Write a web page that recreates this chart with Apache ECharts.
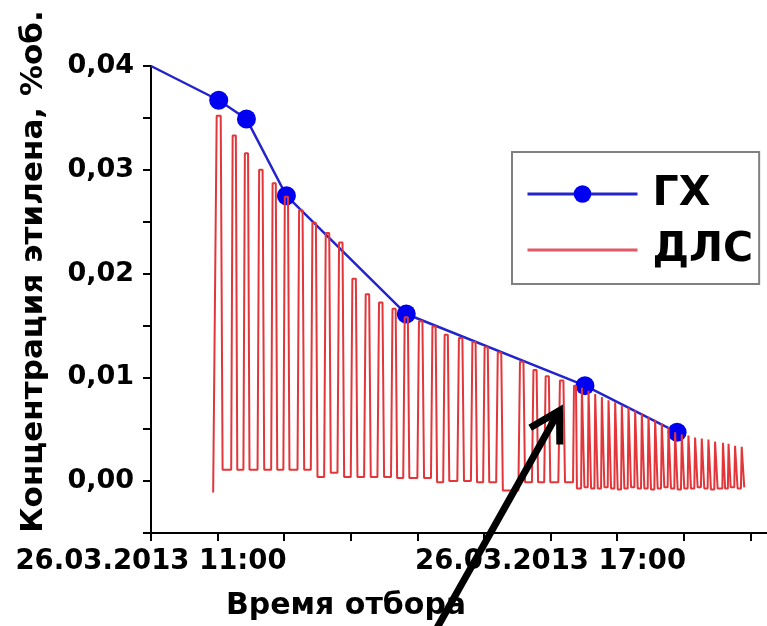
<!DOCTYPE html>
<html>
<head>
<meta charset="utf-8">
<script src="https://cdn.jsdelivr.net/npm/echarts@6/dist/echarts.min.js"></script>
<style>
  html, body { margin: 0; padding: 0; background: #fff; }
  #chart { width: 767px; height: 626px; }
</style>
</head>
<body>
<div id="chart"></div>
<script>
// ГХ — chromatograph samples: time of sampling and ethylene concentration, %vol
const gcTimes  = ['11:00', '12:01', '12:26', '13:02', '14:50', '17:31', '18:54'];
const gcValues = [0.0400, 0.0367, 0.0349, 0.0275, 0.0161, 0.0092, 0.0047];

// ДЛС — laser sensor record: starting level, then one pulse per measuring cycle
const dlsStartTime  = '11:56';
const dlsStartValue = -0.0011;
const dlsPeakTimes = [
  '12:01', '12:15', '12:26', '12:39', '12:51', '13:02', '13:15', '13:27', '13:39', '13:51',
  '14:03', '14:15', '14:27', '14:39', '14:50', '15:03', '15:15', '15:26', '15:39', '15:51',
  '16:02', '16:14', '16:34', '16:46', '16:57', '17:10', '17:22',
  '17:29', '17:35', '17:41', '17:47', '17:53', '17:59', '18:05', '18:11', '18:17', '18:23',
  '18:29', '18:35', '18:41', '18:47', '18:53', '18:59', '19:05', '19:11', '19:17', '19:23',
  '19:29', '19:36', '19:41', '19:47', '19:53'
];
const dlsPeakValues = [
  0.0352, 0.0333, 0.0316, 0.0300, 0.0287, 0.0274, 0.0261, 0.0249, 0.0239, 0.0230,
  0.0195, 0.0180, 0.0172, 0.0166, 0.0158, 0.0154, 0.0149, 0.0141, 0.0138, 0.0134,
  0.0129, 0.0124, 0.0115, 0.0107, 0.0101, 0.0097, 0.0092,
  0.0090, 0.0087, 0.0084, 0.0081, 0.0078, 0.0076, 0.0073, 0.0071, 0.0068, 0.0065,
  0.0062, 0.0059, 0.0056, 0.0052, 0.0047, 0.0045, 0.0044, 0.0042, 0.0041, 0.0040,
  0.0038, 0.0037, 0.0036, 0.0034, 0.0033
];
// baseline level reached after each pulse
const dlsTroughValues = [
  0.0011, 0.0011, 0.0011, 0.0011, 0.0011, 0.0011, 0.0011, 0.0004, 0.0008, 0.0004,
  0.0004, 0.0004, 0.0004, 0.0003, 0.0003, 0.0003, -0.0001, 0.0000, 0.0000, -0.0001,
  -0.0001, -0.0009, -0.0001, -0.0001, -0.0001, -0.0001, -0.0007,
  -0.0006, -0.0007, -0.0007, -0.0006, -0.0007, -0.0008, -0.0007, -0.0006, -0.0007, -0.0007,
  -0.0008, -0.0007, -0.0006, -0.0007, -0.0008, -0.0007, -0.0007, -0.0006, -0.0007, -0.0008,
  -0.0007, -0.0007, -0.0006, -0.0007, -0.0006
];

// labelled ticks of the time axis
const xTickLabels = { 11: '26.03.2013 11:00', 17: '26.03.2013 17:00' };

function toHours(s) {
  const p = s.split(':').map(Number);
  return p[0] + p[1] / 60;
}

// GC points; the first sample has no marker
const gcData = gcTimes.map((t, i) => {
  const item = { value: [toHours(t), gcValues[i]] };
  if (i === 0) item.symbol = 'none';
  return item;
});

// sensor trace: each pulse rises from the previous baseline, holds, falls to its own baseline
const peakHours = dlsPeakTimes.map(toHours);
const dlsData = [[toHours(dlsStartTime), dlsStartValue]];
peakHours.forEach((c, i) => {
  const prev = i > 0 ? c - peakHours[i - 1] : Infinity;
  const next = i < peakHours.length - 1 ? peakHours[i + 1] - c : Infinity;
  const s = Math.min(prev, next);
  const hold = 0.13 * s, edge = 0.12 * s;
  const before = i > 0 ? dlsTroughValues[i - 1] : dlsStartValue;
  dlsData.push([c - hold - edge, before]);
  dlsData.push([c - hold, dlsPeakValues[i]]);
  dlsData.push([c + hold, dlsPeakValues[i]]);
  dlsData.push([c + hold + edge, dlsTroughValues[i]]);
});

const FONT = 'DejaVu Sans';
const chart = echarts.init(document.getElementById('chart'), null, { renderer: 'canvas' });

chart.setOption({
  animation: false,
  backgroundColor: '#fff',
  grid: { left: 151, right: 0, top: 66, bottom: 93 },
  legend: {
    left: 512, top: 152, orient: 'vertical',
    itemWidth: 110, itemHeight: 22, itemGap: 12,
    padding: [20, 6, 12, 14],
    borderColor: '#808080', borderWidth: 2,
    lineStyle: { width: 3 },
    textStyle: { fontFamily: FONT, fontWeight: 'bold', fontSize: 41, color: '#000', lineHeight: 44, padding: [0, 0, 0, 10] },
    data: [
      { name: 'ГХ' },
      { name: 'ДЛС', itemStyle: { opacity: 0 }, lineStyle: { color: '#e05a66', width: 3 } }
    ]
  },
  xAxis: {
    type: 'value', min: 11, max: 20.25, interval: 1,
    axisLine: { onZero: false, lineStyle: { color: '#000', width: 2 } },
    axisTick: { length: 8, lineStyle: { color: '#000', width: 2 } },
    splitLine: { show: false },
    axisLabel: {
      showMinLabel: true, showMaxLabel: false, margin: 15,
      fontFamily: FONT, fontWeight: 'bold', fontSize: 27.5, color: '#000',
      formatter: v => xTickLabels[Math.round(v)] && Math.abs(v - Math.round(v)) < 1e-6 ? xTickLabels[Math.round(v)] : ''
    },
    name: 'Время отбора', nameLocation: 'middle', nameGap: 58,
    nameTextStyle: { fontFamily: FONT, fontWeight: 'bold', fontSize: 30, color: '#000', padding: [0, 226, 0, 0] }
  },
  yAxis: {
    type: 'value', min: -0.005, max: 0.04, interval: 0.005,
    axisLine: { show: true, lineStyle: { color: '#000', width: 2 } },
    axisTick: { show: true, length: 8, lineStyle: { color: '#000', width: 2 } },
    splitLine: { show: false },
    axisLabel: {
      showMinLabel: true, showMaxLabel: true, margin: 17,
      fontFamily: FONT, fontWeight: 'bold', fontSize: 27, color: '#000',
      formatter: v => {
        const k = Math.round(v * 1000);
        return k % 10 === 0 ? (k / 1000).toFixed(2).replace('.', ',') : '';
      }
    },
    name: 'Концентрация этилена, %об.', nameLocation: 'middle', nameGap: 102, nameRotate: 90,
    nameTextStyle: { fontFamily: FONT, fontWeight: 'bold', fontSize: 31, color: '#000', padding: [0, 0, 0, 56] }
  },
  series: [
    {
      name: 'ГХ', type: 'line', data: gcData, z: 2,
      symbol: 'circle', symbolSize: 19,
      lineStyle: { color: '#2424cc', width: 2.5 },
      itemStyle: { color: '#0000f0' }
    },
    {
      name: 'ДЛС', type: 'line', data: dlsData, z: 3,
      symbol: 'none', showSymbol: false,
      lineStyle: { color: '#e3363a', width: 2 },
      itemStyle: { color: '#e3363a' }
    }
  ]
});

// pointer arrow aimed at a sensor pulse near 17:08
const tip = chart.convertToPixel({ gridIndex: 0 }, [toHours('17:08'), 0.0068]);
const dir = [-0.49, 0.87];
const arm = (deg, len) => {
  const a = Math.atan2(dir[1], dir[0]) + deg * Math.PI / 180;
  return [tip[0] + Math.cos(a) * len, tip[1] + Math.sin(a) * len];
};
chart.setOption({
  graphic: [
    { type: 'polyline', z: 100, shape: { points: [tip, [tip[0] + dir[0] * 300, tip[1] + dir[1] * 300]] },
      style: { stroke: '#000', lineWidth: 7, fill: null } },
    { type: 'polyline', z: 100, shape: { points: [arm(-30, 34), tip, arm(30, 34)] },
      style: { stroke: '#000', lineWidth: 7, fill: null, lineJoin: 'miter' } }
  ]
});
</script>
</body>
</html>
